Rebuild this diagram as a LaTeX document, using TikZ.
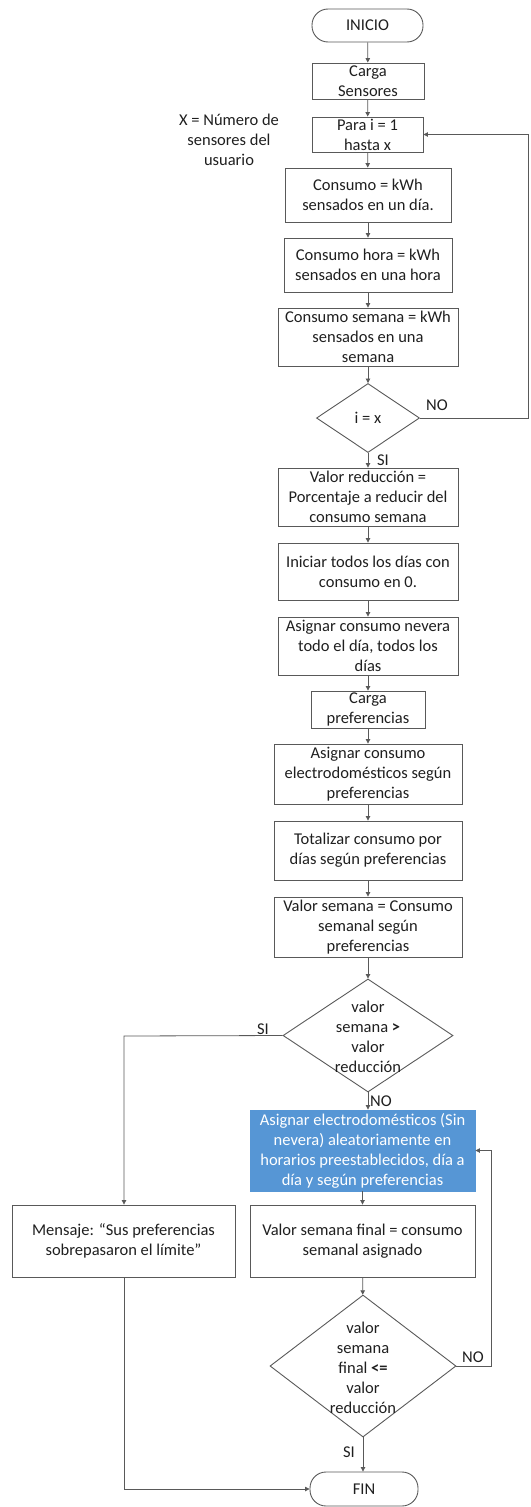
\documentclass[tikz,border=0pt]{standalone}
\usepackage{fontspec}
\setmainfont{Carlito}
\usetikzlibrary{shapes.geometric,arrows.meta}
\definecolor{edge}{HTML}{595959}
\definecolor{ink}{HTML}{1F1F1F}
\definecolor{bluefill}{RGB}{86,150,213}
\begin{document}
\begin{tikzpicture}[x=1pt,y=-1pt,
  every node/.style={font=\fontsize{16.5}{20}\selectfont, text=ink},
  proc/.style={draw=edge, line width=0.9pt, rectangle, align=center, inner sep=1pt},
  term/.style={draw=edge, line width=0.9pt, rectangle, rounded corners=16pt, align=center},
  decision/.style={draw=edge, line width=0.9pt, diamond, inner sep=0pt},
  lbl/.style={inner sep=0pt, align=center},
  flow/.style={draw=edge, line width=0.8pt, -{Triangle[length=4.5pt,width=4.5pt]}},
  plain/.style={draw=edge, line width=0.8pt}
]
\useasboundingbox (0,0) rectangle (530,1507);

% main column
\node[term, minimum width=111pt, minimum height=33pt] (start) at (367.5,25.5) {INICIO};
\node[proc, minimum width=112pt, minimum height=36pt] (carga) at (368,81) {Carga\\Sensores};
\node[proc, minimum width=111pt, minimum height=35pt] (para) at (367.5,134.5) {Para i = 1\\hasta x};
\node[lbl] (note) at (229,140) {X = Número de\\sensores del\\usuario};
\node[proc, minimum width=166pt, minimum height=54pt] (c1) at (368,195) {Consumo = kWh\\sensados en un día.};
\node[proc, minimum width=168pt, minimum height=54pt] (c2) at (368,265) {Consumo hora = kWh\\sensados en una hora};
\node[proc, minimum width=180pt, minimum height=58pt] (c3) at (368,337) {Consumo semana = kWh\\sensados en una\\semana};
\node[decision, minimum width=103pt, minimum height=69pt] (d1) at (368,418) {};
\node[lbl] (d1t) at (368,418) {i = x};
\node[proc, minimum width=180pt, minimum height=58pt] (vr) at (368,497) {Valor reducción =\\Porcentaje a reducir del\\consumo semana};
\node[proc, minimum width=180pt, minimum height=57pt] (ini) at (368,571.5) {Iniciar todos los días con\\consumo en 0.};
\node[proc, minimum width=180pt, minimum height=58pt] (nev) at (368,646) {Asignar consumo nevera\\todo el día, todos los\\días};
\node[proc, minimum width=114pt, minimum height=37pt] (cp) at (368,709.5) {Carga\\preferencias};
\node[proc, minimum width=188pt, minimum height=60pt] (ae) at (368,774) {Asignar consumo\\electrodomésticos según\\preferencias};
\node[proc, minimum width=188pt, minimum height=59pt] (tot) at (368,850.5) {Totalizar consumo por\\días según preferencias};
\node[proc, minimum width=188pt, minimum height=60pt] (vs) at (368,927) {Valor semana = Consumo\\semanal según\\preferencias};
\node[decision, minimum width=170pt, minimum height=113pt] (d2) at (368,1035.5) {};
\node[lbl] (d2t) at (368,1037) {valor\\semana \textbf{>}\\valor\\reducción};

% lower part
\node[proc, fill=bluefill, draw=bluefill, minimum width=225pt, minimum height=81pt, text=white] (blue) at (362.5,1150.5) {Asignar electrodomésticos (Sin\\nevera) aleatoriamente en\\horarios preestablecidos, día a\\día y según preferencias};
\node[proc, minimum width=225pt, minimum height=72pt] (vsf) at (362.5,1241) {Valor semana final = consumo\\semanal asignado};
\node[proc, minimum width=223pt, minimum height=72pt] (msg) at (123.5,1241) {Mensaje: “Sus preferencias\\sobrepasaron el límite”};
\node[decision, minimum width=186pt, minimum height=142pt] (d3) at (363,1366) {};
\node[lbl] (d3t) at (363,1368) {valor\\semana\\final \textbf{<=}\\valor\\reducción};
\node[term, minimum width=108pt, minimum height=34pt] (fin) at (364,1489) {FIN};

% branch labels
\node[lbl] (no1) at (437,405) {NO};
\node[lbl] (si1) at (383,460) {SI};
\node[lbl] (si2) at (263,1029) {SI};
\node[lbl] (no2) at (381,1101) {NO};
\node[lbl] (no3) at (473,1357) {NO};
\node[lbl] (si3) at (349,1452) {SI};

% loop corners
\coordinate (loop1) at (528.5,418);
\coordinate (loop3) at (491,1366);
\coordinate (msgcol) at (124,1036);

% connectors
\draw[flow] (start) -- (carga);
\draw[flow] (carga) -- (para);
\draw[flow] (para) -- (c1);
\draw[flow] (c1) -- (c2);
\draw[flow] (c2) -- (c3);
\draw[flow] (c3) -- (d1);
\draw[flow] (d1) -- (vr);
\draw[flow] (d1.east) -- (loop1) |- (para.east);
\draw[flow] (vr) -- (ini);
\draw[flow] (ini) -- (nev);
\draw[flow] (nev) -- (cp);
\draw[flow] (cp) -- (ae);
\draw[flow] (ae) -- (tot);
\draw[flow] (tot) -- (vs);
\draw[flow] (vs) -- (d2);
\draw[flow] (d2.west) -- (msgcol) -- (msg.north -| msgcol);
\draw[flow] (d2.south) -- (d2.south |- blue.north);
\draw[flow] (blue) -- (vsf);
\draw[flow] (vsf) -- (d3);
\draw[flow] (d3.east) -- (loop3) |- (blue.east);
\draw[flow] (d3.south) -- (fin.north -| d3.south);
\draw[flow] (msg.south -| msgcol) |- (fin.west);
\end{tikzpicture}
\end{document}
